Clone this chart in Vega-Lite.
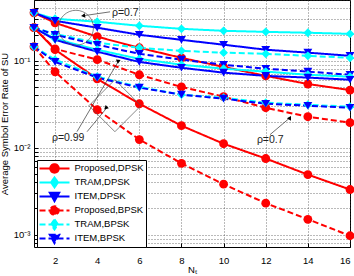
{
  "$schema": "https://vega.github.io/schema/vega-lite/v6.json",
  "width": 316,
  "height": 247,
  "autosize": {"type": "none"},
  "padding": {"left": 34, "top": 0, "right": 4, "bottom": 29},
  "background": "#ffffff",
  "config": {
    "font": "Liberation Sans",
    "view": {"stroke": "#000", "strokeWidth": 1},
    "axis": {"domainColor": "#000", "tickColor": "#000", "labelColor": "#000", "titleColor": "#000", "labelFont": "Liberation Sans", "titleFont": "Liberation Sans", "titleFontWeight": "normal", "labelFontSize": 9.5, "titleFontSize": 9.5, "gridColor": "#333", "gridDash": [1, 2], "gridOpacity": 0.85, "gridWidth": 0.8}
  },
  "datasets": {
    "ser": [
      {"series": "Proposed,DPSK", "rho": "0.7", "N": 1, "ser": 0.356},
      {"series": "Proposed,DPSK", "rho": "0.7", "N": 2, "ser": 0.273},
      {"series": "Proposed,DPSK", "rho": "0.7", "N": 4, "ser": 0.189},
      {"series": "Proposed,DPSK", "rho": "0.7", "N": 6, "ser": 0.141},
      {"series": "Proposed,DPSK", "rho": "0.7", "N": 8, "ser": 0.108},
      {"series": "Proposed,DPSK", "rho": "0.7", "N": 10, "ser": 0.085},
      {"series": "Proposed,DPSK", "rho": "0.7", "N": 12, "ser": 0.067},
      {"series": "Proposed,DPSK", "rho": "0.7", "N": 14, "ser": 0.054},
      {"series": "Proposed,DPSK", "rho": "0.7", "N": 16, "ser": 0.046},
      {"series": "TRAM,DPSK", "rho": "0.7", "N": 1, "ser": 0.356},
      {"series": "TRAM,DPSK", "rho": "0.7", "N": 2, "ser": 0.304},
      {"series": "TRAM,DPSK", "rho": "0.7", "N": 4, "ser": 0.281},
      {"series": "TRAM,DPSK", "rho": "0.7", "N": 6, "ser": 0.2525},
      {"series": "TRAM,DPSK", "rho": "0.7", "N": 8, "ser": 0.233},
      {"series": "TRAM,DPSK", "rho": "0.7", "N": 10, "ser": 0.221},
      {"series": "TRAM,DPSK", "rho": "0.7", "N": 12, "ser": 0.215},
      {"series": "TRAM,DPSK", "rho": "0.7", "N": 14, "ser": 0.21},
      {"series": "TRAM,DPSK", "rho": "0.7", "N": 16, "ser": 0.204},
      {"series": "ITEM,DPSK", "rho": "0.7", "N": 1, "ser": 0.356},
      {"series": "ITEM,DPSK", "rho": "0.7", "N": 2, "ser": 0.288},
      {"series": "ITEM,DPSK", "rho": "0.7", "N": 4, "ser": 0.24},
      {"series": "ITEM,DPSK", "rho": "0.7", "N": 6, "ser": 0.199},
      {"series": "ITEM,DPSK", "rho": "0.7", "N": 8, "ser": 0.174},
      {"series": "ITEM,DPSK", "rho": "0.7", "N": 10, "ser": 0.153},
      {"series": "ITEM,DPSK", "rho": "0.7", "N": 12, "ser": 0.134},
      {"series": "ITEM,DPSK", "rho": "0.7", "N": 14, "ser": 0.124},
      {"series": "ITEM,DPSK", "rho": "0.7", "N": 16, "ser": 0.114},
      {"series": "Proposed,BPSK", "rho": "0.7", "N": 1, "ser": 0.24},
      {"series": "Proposed,BPSK", "rho": "0.7", "N": 2, "ser": 0.137},
      {"series": "Proposed,BPSK", "rho": "0.7", "N": 4, "ser": 0.103},
      {"series": "Proposed,BPSK", "rho": "0.7", "N": 6, "ser": 0.069},
      {"series": "Proposed,BPSK", "rho": "0.7", "N": 8, "ser": 0.05},
      {"series": "Proposed,BPSK", "rho": "0.7", "N": 10, "ser": 0.0386},
      {"series": "Proposed,BPSK", "rho": "0.7", "N": 12, "ser": 0.0288},
      {"series": "Proposed,BPSK", "rho": "0.7", "N": 14, "ser": 0.0227},
      {"series": "Proposed,BPSK", "rho": "0.7", "N": 16, "ser": 0.0194},
      {"series": "TRAM,BPSK", "rho": "0.7", "N": 1, "ser": 0.24},
      {"series": "TRAM,BPSK", "rho": "0.7", "N": 2, "ser": 0.204},
      {"series": "TRAM,BPSK", "rho": "0.7", "N": 4, "ser": 0.161},
      {"series": "TRAM,BPSK", "rho": "0.7", "N": 6, "ser": 0.141},
      {"series": "TRAM,BPSK", "rho": "0.7", "N": 8, "ser": 0.13},
      {"series": "TRAM,BPSK", "rho": "0.7", "N": 10, "ser": 0.124},
      {"series": "TRAM,BPSK", "rho": "0.7", "N": 12, "ser": 0.12},
      {"series": "TRAM,BPSK", "rho": "0.7", "N": 14, "ser": 0.114},
      {"series": "TRAM,BPSK", "rho": "0.7", "N": 16, "ser": 0.108},
      {"series": "ITEM,BPSK", "rho": "0.7", "N": 1, "ser": 0.24},
      {"series": "ITEM,BPSK", "rho": "0.7", "N": 2, "ser": 0.199},
      {"series": "ITEM,BPSK", "rho": "0.7", "N": 4, "ser": 0.153},
      {"series": "ITEM,BPSK", "rho": "0.7", "N": 6, "ser": 0.12},
      {"series": "ITEM,BPSK", "rho": "0.7", "N": 8, "ser": 0.103},
      {"series": "ITEM,BPSK", "rho": "0.7", "N": 10, "ser": 0.09},
      {"series": "ITEM,BPSK", "rho": "0.7", "N": 12, "ser": 0.081},
      {"series": "ITEM,BPSK", "rho": "0.7", "N": 14, "ser": 0.075},
      {"series": "ITEM,BPSK", "rho": "0.7", "N": 16, "ser": 0.069},
      {"series": "Proposed,DPSK", "rho": "0.99", "N": 1, "ser": 0.24},
      {"series": "Proposed,DPSK", "rho": "0.99", "N": 2, "ser": 0.134},
      {"series": "Proposed,DPSK", "rho": "0.99", "N": 4, "ser": 0.062},
      {"series": "Proposed,DPSK", "rho": "0.99", "N": 6, "ser": 0.032},
      {"series": "Proposed,DPSK", "rho": "0.99", "N": 8, "ser": 0.0179},
      {"series": "Proposed,DPSK", "rho": "0.99", "N": 10, "ser": 0.0111},
      {"series": "Proposed,DPSK", "rho": "0.99", "N": 12, "ser": 0.0075},
      {"series": "Proposed,DPSK", "rho": "0.99", "N": 14, "ser": 0.0049},
      {"series": "Proposed,DPSK", "rho": "0.99", "N": 16, "ser": 0.0033},
      {"series": "TRAM,DPSK", "rho": "0.99", "N": 1, "ser": 0.24},
      {"series": "TRAM,DPSK", "rho": "0.99", "N": 2, "ser": 0.179},
      {"series": "TRAM,DPSK", "rho": "0.99", "N": 4, "ser": 0.134},
      {"series": "TRAM,DPSK", "rho": "0.99", "N": 6, "ser": 0.105},
      {"series": "TRAM,DPSK", "rho": "0.99", "N": 8, "ser": 0.09},
      {"series": "TRAM,DPSK", "rho": "0.99", "N": 10, "ser": 0.081},
      {"series": "TRAM,DPSK", "rho": "0.99", "N": 12, "ser": 0.075},
      {"series": "TRAM,DPSK", "rho": "0.99", "N": 14, "ser": 0.069},
      {"series": "TRAM,DPSK", "rho": "0.99", "N": 16, "ser": 0.0655},
      {"series": "ITEM,DPSK", "rho": "0.99", "N": 1, "ser": 0.24},
      {"series": "ITEM,DPSK", "rho": "0.99", "N": 2, "ser": 0.174},
      {"series": "ITEM,DPSK", "rho": "0.99", "N": 4, "ser": 0.127},
      {"series": "ITEM,DPSK", "rho": "0.99", "N": 6, "ser": 0.097},
      {"series": "ITEM,DPSK", "rho": "0.99", "N": 8, "ser": 0.083},
      {"series": "ITEM,DPSK", "rho": "0.99", "N": 10, "ser": 0.073},
      {"series": "ITEM,DPSK", "rho": "0.99", "N": 12, "ser": 0.067},
      {"series": "ITEM,DPSK", "rho": "0.99", "N": 14, "ser": 0.064},
      {"series": "ITEM,DPSK", "rho": "0.99", "N": 16, "ser": 0.0605},
      {"series": "Proposed,BPSK", "rho": "0.99", "N": 1, "ser": 0.145},
      {"series": "Proposed,BPSK", "rho": "0.99", "N": 2, "ser": 0.0747},
      {"series": "Proposed,BPSK", "rho": "0.99", "N": 4, "ser": 0.0273},
      {"series": "Proposed,BPSK", "rho": "0.99", "N": 6, "ser": 0.0124},
      {"series": "Proposed,BPSK", "rho": "0.99", "N": 8, "ser": 0.0066},
      {"series": "Proposed,BPSK", "rho": "0.99", "N": 10, "ser": 0.0038},
      {"series": "Proposed,BPSK", "rho": "0.99", "N": 12, "ser": 0.0023},
      {"series": "Proposed,BPSK", "rho": "0.99", "N": 14, "ser": 0.0015},
      {"series": "Proposed,BPSK", "rho": "0.99", "N": 16, "ser": 0.00097},
      {"series": "TRAM,BPSK", "rho": "0.99", "N": 1, "ser": 0.145},
      {"series": "TRAM,BPSK", "rho": "0.99", "N": 2, "ser": 0.103},
      {"series": "TRAM,BPSK", "rho": "0.99", "N": 4, "ser": 0.0655},
      {"series": "TRAM,BPSK", "rho": "0.99", "N": 6, "ser": 0.05},
      {"series": "TRAM,BPSK", "rho": "0.99", "N": 8, "ser": 0.0407},
      {"series": "TRAM,BPSK", "rho": "0.99", "N": 10, "ser": 0.0376},
      {"series": "TRAM,BPSK", "rho": "0.99", "N": 12, "ser": 0.0329},
      {"series": "TRAM,BPSK", "rho": "0.99", "N": 14, "ser": 0.0312},
      {"series": "TRAM,BPSK", "rho": "0.99", "N": 16, "ser": 0.0296},
      {"series": "ITEM,BPSK", "rho": "0.99", "N": 1, "ser": 0.145},
      {"series": "ITEM,BPSK", "rho": "0.99", "N": 2, "ser": 0.097},
      {"series": "ITEM,BPSK", "rho": "0.99", "N": 4, "ser": 0.064},
      {"series": "ITEM,BPSK", "rho": "0.99", "N": 6, "ser": 0.049},
      {"series": "ITEM,BPSK", "rho": "0.99", "N": 8, "ser": 0.0407},
      {"series": "ITEM,BPSK", "rho": "0.99", "N": 10, "ser": 0.0366},
      {"series": "ITEM,BPSK", "rho": "0.99", "N": 12, "ser": 0.032},
      {"series": "ITEM,BPSK", "rho": "0.99", "N": 14, "ser": 0.0304},
      {"series": "ITEM,BPSK", "rho": "0.99", "N": 16, "ser": 0.0288}
    ],
    "arrows": [
      {"id": "top", "N": 4.61, "v": 0.3654, "N2": 3.33, "v2": 0.329},
      {"id": "a", "N": 3.04, "v": 0.01528, "N2": 4.99, "v2": 0.0974},
      {"id": "b", "N": 3.52, "v": 0.01528, "N2": 4.46, "v2": 0.0288},
      {"id": "right", "N": 12.2, "v": 0.0141, "N2": 13.15, "v2": 0.0221}
    ],
    "labels": [
      {"text": "ρ=0.7", "N": 4.7, "v": 0.3562},
      {"text": "ρ=0.99", "N": 1.85, "v": 0.01306},
      {"text": "ρ=0.7", "N": 11.58, "v": 0.01238}
    ],
    "ellipses": [
      {"id": "e1", "N": 2.99, "v": 0.2395},
      {"id": "e2", "N": 4.84, "v": 0.0304}
    ]
  },
  "encoding": {
    "x": {"field": "N", "type": "quantitative", "scale": {"domain": [1, 16], "nice": false, "zero": false},
      "axis": {"title": "Nₜ", "values": [2, 4, 6, 8, 10, 12, 14, 16], "tickSize": -4, "labelPadding": 12, "titlePadding": 0, "domain": false}},
    "y": {"field": "ser", "type": "quantitative", "scale": {"type": "log", "domain": [0.00072, 0.5], "nice": false, "zero": false},
      "axis": {"title": "Average Symbol Error Rate of SU", "values": [0.0008, 0.0009, 0.001, 0.002, 0.003, 0.004, 0.005, 0.006, 0.007, 0.008, 0.009, 0.01, 0.02, 0.03, 0.04, 0.05, 0.06, 0.07, 0.08, 0.09, 0.1, 0.2, 0.3, 0.4, 0.5],
        "labelExpr": "datum.value == 0.1 ? '10⁻¹' : datum.value == 0.01 ? '10⁻²' : datum.value == 0.001 ? '10⁻³' : ''",
        "tickSize": -4, "labelPadding": 8, "titlePadding": 4, "domain": false}}
  },
  "layer": [
    {
      "data": {"name": "ser"},
      "mark": {"type": "line", "strokeWidth": 2},
      "encoding": {
        "color": {"field": "series", "type": "nominal", "scale": {"domain": ["Proposed,DPSK", "TRAM,DPSK", "ITEM,DPSK", "Proposed,BPSK", "TRAM,BPSK", "ITEM,BPSK"], "range": ["#ff0000", "#00ffff", "#0000ff", "#ff0000", "#00ffff", "#0000ff"]},
          "legend": {"orient": "none", "legendX": 3, "legendY": 160, "title": null, "fillColor": "#ffffff", "strokeColor": "#000", "padding": 1.5, "rowPadding": 0, "clipHeight": 13.8, "labelFontSize": 9.5, "labelFont": "Liberation Sans", "labelColor": "#000", "labelOffset": 14, "symbolOffset": 10, "symbolStrokeWidth": 2, "symbolSize": 100,
            "encode": {"symbols": {"update": {"size": {"value": 100}, "shape": {"signal": "indexof(datum.value, 'Proposed') == 0 ? 'M-3,0H3M-0.85,0A0.85,0.85 0 1,0 0.85,0A0.85,0.85 0 1,0 -0.85,0' : indexof(datum.value, 'TRAM') == 0 ? 'M-3,0H3M0,-1L0.7,0L0,1L-0.7,0Z' : 'M-3,0H3M-0.95,-0.75L0.95,-0.75L0,0.95Z'"}}}}}},
        "strokeDash": {"field": "series", "type": "nominal", "scale": {"domain": ["Proposed,DPSK", "TRAM,DPSK", "ITEM,DPSK", "Proposed,BPSK", "TRAM,BPSK", "ITEM,BPSK"], "range": [[1, 0], [1, 0], [1, 0], [6, 3], [6, 3], [6, 3]]}},
        "detail": {"field": "rho", "type": "nominal"}
      }
    },
    {
      "data": {"name": "ser"},
      "mark": {"type": "point", "filled": true, "size": 78, "opacity": 1},
      "encoding": {
        "color": {"field": "series", "type": "nominal"},
        "shape": {"field": "series", "type": "nominal", "scale": {"domain": ["Proposed,DPSK", "TRAM,DPSK", "ITEM,DPSK", "Proposed,BPSK", "TRAM,BPSK", "ITEM,BPSK"], "range": ["circle", "diamond", "triangle-down", "circle", "diamond", "triangle-down"]}}
      }
    },
    {
      "data": {"name": "arrows"},
      "mark": {"type": "rule", "color": "#333", "strokeWidth": 0.7},
      "encoding": {"x": {"field": "N", "type": "quantitative"}, "y": {"field": "v", "type": "quantitative"}, "x2": {"field": "N2"}, "y2": {"field": "v2"}}
    },
    {
      "data": {"name": "arrows"},
      "mark": {"type": "point", "shape": "triangle-up", "filled": true, "color": "#000", "size": 22, "opacity": 1},
      "encoding": {"x": {"field": "N2", "type": "quantitative"}, "y": {"field": "v2", "type": "quantitative"},
        "angle": {"field": "id", "type": "nominal", "scale": {"domain": ["top", "a", "b", "right"], "range": [262, 30, 40, 50]}, "legend": null}}
    },
    {
      "data": {"name": "ellipses"},
      "mark": {"type": "point", "filled": false, "color": "#555", "strokeWidth": 0.7, "opacity": 1},
      "encoding": {"x": {"field": "N", "type": "quantitative"}, "y": {"field": "v", "type": "quantitative"},
        "shape": {"field": "id", "type": "nominal", "scale": {"domain": ["e1", "e2"], "range": ["M0,-1A0.18,1 0 1,1 0,1A0.18,1 0 1,1 0,-1", "M0,-1A0.2,1 0 1,1 0,1A0.2,1 0 1,1 0,-1"]}, "legend": null},
        "size": {"field": "id", "type": "nominal", "scale": {"domain": ["e1", "e2"], "range": [1225, 2704]}, "legend": null}}
    },
    {
      "data": {"name": "labels"},
      "mark": {"type": "text", "align": "left", "baseline": "middle", "fontSize": 10.5, "font": "Liberation Sans", "color": "#222"},
      "encoding": {"x": {"field": "N", "type": "quantitative"}, "y": {"field": "v", "type": "quantitative"}, "text": {"field": "text"}}
    }
  ]
}
